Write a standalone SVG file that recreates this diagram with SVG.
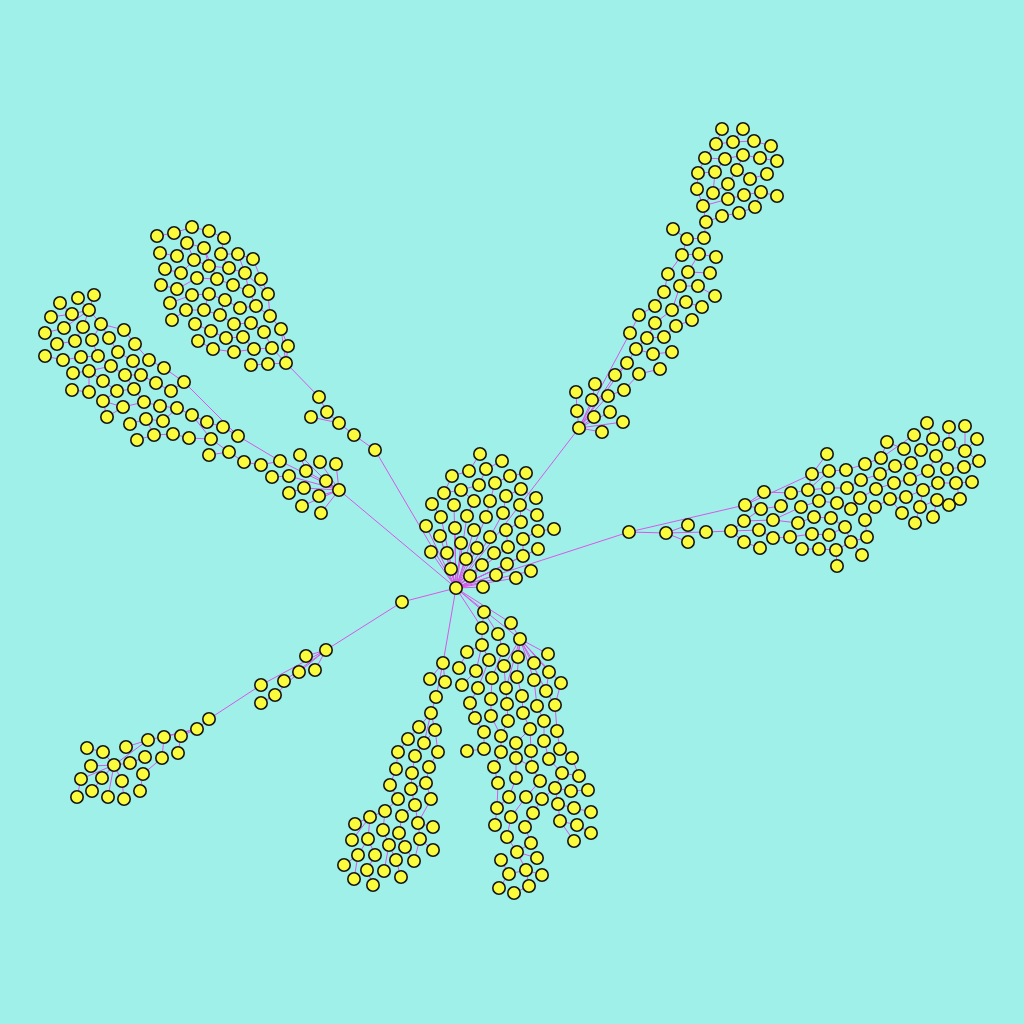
<svg xmlns="http://www.w3.org/2000/svg" width="1024" height="1024" viewBox="0 0 1024 1024">
<style>
.e{fill:none;stroke:#d957e6;stroke-width:1}
.nd circle{fill:#fbfb3e;stroke:#151515;stroke-width:1.6}
</style>
<rect width="1024" height="1024" fill="#9ef0e9"/>
<g id="connectors">
<path class="e" d="M456 588L579 428M456 588L629 532M456 588L339 490M456 588L375 450M456 588L402 602M456 588L443 663M456 588L484 612M456 588L482 628M456 588L511 623M456 588L520 639"/>
<path class="e" d="M456 588L451 569M456 588L470 576M456 588L466 559M456 588L447 553M456 588L431 552M456 588L440 536M456 588L461 543M456 588L455 528M456 588L441 517M456 588L477 548M456 588L482 565M456 588L496 575M456 588L516 578M456 588L531 571M456 588L483 587M456 588L507 564M456 588L494 553M456 588L474 530M456 588L467 516M456 588L454 505M456 588L426 526M456 588L490 537M456 588L508 547M456 588L523 556M456 588L538 549M456 588L486 517M454 505L444 493L452 476L469 471L480 454M444 493L461 490L479 485L486 469L502 461M474 501L461 490M490 501L495 483L510 476L526 473M503 513L506 496L521 489L536 498M520 505L537 515M506 530L521 522L520 505M523 539L538 531L554 529M486 517L490 501M467 516L474 501M441 517L432 504M490 537L503 513M508 547L506 530M523 556L523 539"/>
<path class="e" d="M579 428L577 411M579 428L594 417M579 428L610 412M579 428L602 432M579 428L623 422M579 428L592 400M579 428L608 396M579 428L615 375M579 428L627 363M579 428L630 333M577 411L576 392M592 400L595 384M608 396L624 390L639 374L660 369M627 363L636 349L653 354L672 352M636 349L647 338L664 337L676 326L692 320M630 333L639 315L655 306L664 292L668 274L682 255L687 239L673 229M682 255L699 254L716 257M687 239L704 238L706 222M647 338L655 323L672 310L686 302L702 307M672 310L680 286L698 286L715 296M680 286L688 272L710 273M688 272L699 254M615 375L627 363M706 222L722 216L739 213L755 207M706 222L703 206L697 189L698 173L705 158L716 144L722 129M703 206L713 193L728 184L737 170L750 179L767 174M703 206L728 199L744 195L761 192L777 196M716 144L733 142L743 129M733 142L754 141L771 146M705 158L725 159L743 155L760 158L777 161M698 173L715 172L725 159M737 170L743 155M755 207L761 192M713 193L715 172"/>
<path class="e" d="M375 450L354 435L339 423L327 412L319 397L286 363M339 423L311 417M286 363L268 364L251 365M286 363L288 346M286 363L272 348M286 363L281 329M288 346L281 329M272 348L264 332M272 348L254 349L234 352L213 349L198 341M254 349L243 337L226 338L211 331L195 324M264 332L251 323L234 324L220 315L204 310L186 310L172 320M281 329L270 316L268 294L261 279L253 259L238 254L221 254L224 238L209 231L192 227L174 233L157 236M270 316L256 306L240 308L225 300L209 294L192 295L170 303M256 306L249 291L233 285L217 279L197 278L177 289L161 285M249 291L245 273L229 268L209 266L194 260L181 273L165 269M245 273L238 254M229 268L221 254M209 266L204 248L187 243L177 256L160 253M194 260L187 243M268 294L245 273M217 279L204 248M209 294L204 310M220 315L225 300"/>
<path class="e" d="M339 490L326 481M339 490L336 464M339 490L320 462M339 490L304 488M339 490L319 496M339 490L302 506M339 490L321 513M339 490L306 471M339 490L289 476M339 490L280 461M326 481L300 455M306 471L300 455M289 476L272 477M304 488L289 493M280 461L261 465L244 462L229 452L209 455M229 452L211 439L192 415M280 461L238 436L223 427L207 422L192 415M238 436L184 382M89 310L94 295M89 310L78 298M89 310L72 314L60 303M72 314L51 317M89 310L64 328L45 333M89 310L83 327L75 341L57 344M89 310L101 324L124 330L135 344L149 360L164 368L184 382M101 324L92 340L98 356L81 357L63 360L45 356M101 324L109 338L118 352L133 361L141 375L156 383L171 391L184 382M98 356L111 366L125 375L134 389L144 402L160 406L177 408L192 415M111 366L89 371L73 373M89 371L89 392L72 390M89 371L103 381L117 391L134 389M117 391L103 401L123 407L144 402M107 417L123 407M130 424L146 419L163 421L177 408M137 440L154 435L173 434L189 438L211 439M125 375L141 375M103 401L107 417M146 419L154 435"/>
<path class="e" d="M629 532L666 533M629 532L745 505M666 533L688 525M666 533L688 542M666 533L706 532L731 531L744 521L773 520L798 523L814 517L831 518L845 527L851 542L867 537L865 520L875 507L890 499L906 497L923 490M731 531L759 530L773 538L790 537L812 534L829 535L845 527M731 531L744 542L760 548M745 505L764 492L791 493L808 490L828 488L847 488L861 480L880 474L895 466L911 463L921 450L933 439L927 423M745 505L812 474L827 454M812 474L829 471L846 470L865 464L881 458L887 442L904 449M881 458L914 435M745 505L761 509L781 506L791 493M744 521L761 509M773 520L801 507L819 501L837 503L851 509L860 498L876 489L894 483L910 479L928 471L936 456L947 469L964 467L979 461L965 451L949 444L949 427M933 439L949 444M965 451L965 426M965 451L977 439M910 479L923 490L938 483L956 483L972 482M956 483L960 499M923 490L920 507L915 523M920 507L937 500L949 505M937 500L933 517M890 499L902 513M808 490L829 471M836 550L851 542M836 550L837 566M819 549L836 550M802 549L819 549M862 555L851 542M808 490L812 474"/>
<path class="e" d="M484 612L498 634L503 650L492 678L491 699L491 716L501 736L501 752L494 767L498 783L497 808L495 825M484 612L482 628L482 645L467 652L459 668M482 645L476 671L462 685M482 645L489 660L478 688L470 703L475 718L484 732L484 749L467 751M511 623L520 639M520 639L518 657M520 639L534 663M520 639L548 654M520 639L549 672L546 691L555 705L557 731L560 749L572 758L579 776M520 639L534 680L537 706L544 721L544 741L549 759L562 773L579 776M520 639L517 677L522 696L523 713L530 729L516 743L516 758L532 767L540 781L526 797L511 817L507 837L517 852L526 870L509 874L499 888M520 639L504 666L507 704M520 639L506 688L508 721L501 736M520 639L561 683L555 705M520 639L546 691M530 729L531 751L532 767M526 870L529 886L514 893M517 852L537 858M526 870L542 875M562 773L555 788L571 791L588 790M555 788L558 804L574 808L591 812M558 804L560 821L577 825L591 833M560 821L574 841M542 799L533 813L525 827L531 843L517 852M555 788L542 799M516 778L509 797L497 808M516 758L516 778M501 860L509 874"/>
<path class="e" d="M443 663L430 679M443 663L445 682M443 663L436 697L431 713L419 727L408 739L398 752L396 769L390 785L398 799L385 811L370 817L355 824M431 713L435 730L438 752L429 767L426 783L411 789L415 805L402 816L399 833L405 847L414 861M431 713L424 743L415 756L412 773L411 789M435 730L424 743M426 783L431 799L418 823L433 827M415 805L418 823L420 839L433 850M370 817L368 839L358 855L344 865M370 817L352 840M385 811L383 830L389 845L396 860L401 877M368 839L375 855L367 870L373 885M358 855L354 879M384 871L389 845M420 839L414 861"/>
<path class="e" d="M402 602L326 650M326 650L306 656M326 650L315 670M326 650L299 672M326 650L284 681M326 650L261 685M299 672L275 695L261 703M261 685L209 719L197 729L181 736L178 753M197 729L164 737L162 758L143 774L140 791M197 729L148 740L126 747M148 740L114 765L103 752L87 748M114 765L91 766M114 765L102 778L92 791M114 765L81 779L77 797M114 765L122 781L124 799M114 765L108 797M114 765L130 763L145 757"/>
</g>
<g id="nodes" class="nd">
<g id="hub"><circle cx="456" cy="588" r="6.2"/></g>
<g id="c1"><circle cx="480" cy="454" r="6.2"/></g><g id="c2"><circle cx="502" cy="461" r="6.2"/></g><g id="c3"><circle cx="469" cy="471" r="6.2"/></g><g id="c4"><circle cx="486" cy="469" r="6.2"/></g><g id="c5"><circle cx="452" cy="476" r="6.2"/></g><g id="c6"><circle cx="510" cy="476" r="6.2"/></g><g id="c7"><circle cx="526" cy="473" r="6.2"/></g><g id="c8"><circle cx="479" cy="485" r="6.2"/></g><g id="c9"><circle cx="495" cy="483" r="6.2"/></g><g id="c10"><circle cx="461" cy="490" r="6.2"/></g><g id="c11"><circle cx="444" cy="493" r="6.2"/></g><g id="c12"><circle cx="521" cy="489" r="6.2"/></g><g id="c13"><circle cx="506" cy="496" r="6.2"/></g><g id="c14"><circle cx="536" cy="498" r="6.2"/></g><g id="c15"><circle cx="432" cy="504" r="6.2"/></g><g id="c16"><circle cx="454" cy="505" r="6.2"/></g><g id="c17"><circle cx="474" cy="501" r="6.2"/></g><g id="c18"><circle cx="490" cy="501" r="6.2"/></g><g id="c19"><circle cx="520" cy="505" r="6.2"/></g><g id="c20"><circle cx="503" cy="513" r="6.2"/></g><g id="c21"><circle cx="537" cy="515" r="6.2"/></g><g id="c22"><circle cx="441" cy="517" r="6.2"/></g><g id="c23"><circle cx="467" cy="516" r="6.2"/></g><g id="c24"><circle cx="486" cy="517" r="6.2"/></g><g id="c25"><circle cx="426" cy="526" r="6.2"/></g><g id="c26"><circle cx="455" cy="528" r="6.2"/></g><g id="c27"><circle cx="474" cy="530" r="6.2"/></g><g id="c28"><circle cx="506" cy="530" r="6.2"/></g><g id="c29"><circle cx="521" cy="522" r="6.2"/></g><g id="c30"><circle cx="538" cy="531" r="6.2"/></g><g id="c31"><circle cx="554" cy="529" r="6.2"/></g><g id="c32"><circle cx="440" cy="536" r="6.2"/></g><g id="c33"><circle cx="490" cy="537" r="6.2"/></g><g id="c34"><circle cx="523" cy="539" r="6.2"/></g><g id="c35"><circle cx="431" cy="552" r="6.2"/></g><g id="c36"><circle cx="447" cy="553" r="6.2"/></g><g id="c37"><circle cx="461" cy="543" r="6.2"/></g><g id="c38"><circle cx="477" cy="548" r="6.2"/></g><g id="c39"><circle cx="494" cy="553" r="6.2"/></g><g id="c40"><circle cx="508" cy="547" r="6.2"/></g><g id="c41"><circle cx="538" cy="549" r="6.2"/></g><g id="c42"><circle cx="466" cy="559" r="6.2"/></g><g id="c43"><circle cx="482" cy="565" r="6.2"/></g><g id="c44"><circle cx="507" cy="564" r="6.2"/></g><g id="c45"><circle cx="523" cy="556" r="6.2"/></g><g id="c46"><circle cx="451" cy="569" r="6.2"/></g><g id="c47"><circle cx="470" cy="576" r="6.2"/></g><g id="c48"><circle cx="496" cy="575" r="6.2"/></g><g id="c49"><circle cx="516" cy="578" r="6.2"/></g><g id="c50"><circle cx="531" cy="571" r="6.2"/></g><g id="c51"><circle cx="483" cy="587" r="6.2"/></g>
<g id="u1"><circle cx="673" cy="229" r="6.2"/></g><g id="u2"><circle cx="706" cy="222" r="6.2"/></g><g id="u3"><circle cx="687" cy="239" r="6.2"/></g><g id="u4"><circle cx="704" cy="238" r="6.2"/></g><g id="u5"><circle cx="682" cy="255" r="6.2"/></g><g id="u6"><circle cx="699" cy="254" r="6.2"/></g><g id="u7"><circle cx="716" cy="257" r="6.2"/></g><g id="u8"><circle cx="668" cy="274" r="6.2"/></g><g id="u9"><circle cx="688" cy="272" r="6.2"/></g><g id="u10"><circle cx="710" cy="273" r="6.2"/></g><g id="u11"><circle cx="664" cy="292" r="6.2"/></g><g id="u12"><circle cx="680" cy="286" r="6.2"/></g><g id="u13"><circle cx="698" cy="286" r="6.2"/></g><g id="u14"><circle cx="655" cy="306" r="6.2"/></g><g id="u15"><circle cx="686" cy="302" r="6.2"/></g><g id="u16"><circle cx="715" cy="296" r="6.2"/></g><g id="u17"><circle cx="639" cy="315" r="6.2"/></g><g id="u18"><circle cx="672" cy="310" r="6.2"/></g><g id="u19"><circle cx="702" cy="307" r="6.2"/></g><g id="u20"><circle cx="655" cy="323" r="6.2"/></g><g id="u21"><circle cx="676" cy="326" r="6.2"/></g><g id="u22"><circle cx="692" cy="320" r="6.2"/></g><g id="u23"><circle cx="630" cy="333" r="6.2"/></g><g id="u24"><circle cx="647" cy="338" r="6.2"/></g><g id="u25"><circle cx="664" cy="337" r="6.2"/></g><g id="u26"><circle cx="636" cy="349" r="6.2"/></g><g id="u27"><circle cx="653" cy="354" r="6.2"/></g><g id="u28"><circle cx="672" cy="352" r="6.2"/></g><g id="u29"><circle cx="627" cy="363" r="6.2"/></g><g id="u30"><circle cx="615" cy="375" r="6.2"/></g><g id="u31"><circle cx="639" cy="374" r="6.2"/></g><g id="u32"><circle cx="660" cy="369" r="6.2"/></g><g id="u33"><circle cx="595" cy="384" r="6.2"/></g><g id="u34"><circle cx="624" cy="390" r="6.2"/></g><g id="u35"><circle cx="576" cy="392" r="6.2"/></g><g id="u36"><circle cx="592" cy="400" r="6.2"/></g><g id="u37"><circle cx="608" cy="396" r="6.2"/></g><g id="u38"><circle cx="577" cy="411" r="6.2"/></g><g id="u39"><circle cx="594" cy="417" r="6.2"/></g><g id="u40"><circle cx="610" cy="412" r="6.2"/></g><g id="u41"><circle cx="579" cy="428" r="6.2"/></g><g id="u42"><circle cx="602" cy="432" r="6.2"/></g><g id="u43"><circle cx="623" cy="422" r="6.2"/></g>
<g id="u44"><circle cx="722" cy="129" r="6.2"/></g><g id="u45"><circle cx="743" cy="129" r="6.2"/></g><g id="u46"><circle cx="716" cy="144" r="6.2"/></g><g id="u47"><circle cx="733" cy="142" r="6.2"/></g><g id="u48"><circle cx="754" cy="141" r="6.2"/></g><g id="u49"><circle cx="771" cy="146" r="6.2"/></g><g id="u50"><circle cx="705" cy="158" r="6.2"/></g><g id="u51"><circle cx="725" cy="159" r="6.2"/></g><g id="u52"><circle cx="743" cy="155" r="6.2"/></g><g id="u53"><circle cx="760" cy="158" r="6.2"/></g><g id="u54"><circle cx="777" cy="161" r="6.2"/></g><g id="u55"><circle cx="698" cy="173" r="6.2"/></g><g id="u56"><circle cx="715" cy="172" r="6.2"/></g><g id="u57"><circle cx="737" cy="170" r="6.2"/></g><g id="u58"><circle cx="767" cy="174" r="6.2"/></g><g id="u59"><circle cx="750" cy="179" r="6.2"/></g><g id="u60"><circle cx="697" cy="189" r="6.2"/></g><g id="u61"><circle cx="728" cy="184" r="6.2"/></g><g id="u62"><circle cx="713" cy="193" r="6.2"/></g><g id="u63"><circle cx="744" cy="195" r="6.2"/></g><g id="u64"><circle cx="761" cy="192" r="6.2"/></g><g id="u65"><circle cx="777" cy="196" r="6.2"/></g><g id="u66"><circle cx="703" cy="206" r="6.2"/></g><g id="u67"><circle cx="728" cy="199" r="6.2"/></g><g id="u68"><circle cx="755" cy="207" r="6.2"/></g><g id="u69"><circle cx="739" cy="213" r="6.2"/></g><g id="u70"><circle cx="722" cy="216" r="6.2"/></g>
<g id="a1"><circle cx="157" cy="236" r="6.2"/></g><g id="a2"><circle cx="174" cy="233" r="6.2"/></g><g id="a3"><circle cx="192" cy="227" r="6.2"/></g><g id="a4"><circle cx="209" cy="231" r="6.2"/></g><g id="a5"><circle cx="224" cy="238" r="6.2"/></g><g id="a6"><circle cx="187" cy="243" r="6.2"/></g><g id="a7"><circle cx="160" cy="253" r="6.2"/></g><g id="a8"><circle cx="177" cy="256" r="6.2"/></g><g id="a9"><circle cx="204" cy="248" r="6.2"/></g><g id="a10"><circle cx="221" cy="254" r="6.2"/></g><g id="a11"><circle cx="238" cy="254" r="6.2"/></g><g id="a12"><circle cx="253" cy="259" r="6.2"/></g><g id="a13"><circle cx="165" cy="269" r="6.2"/></g><g id="a14"><circle cx="181" cy="273" r="6.2"/></g><g id="a15"><circle cx="194" cy="260" r="6.2"/></g><g id="a16"><circle cx="209" cy="266" r="6.2"/></g><g id="a17"><circle cx="229" cy="268" r="6.2"/></g><g id="a18"><circle cx="245" cy="273" r="6.2"/></g><g id="a19"><circle cx="261" cy="279" r="6.2"/></g><g id="a20"><circle cx="161" cy="285" r="6.2"/></g><g id="a21"><circle cx="177" cy="289" r="6.2"/></g><g id="a22"><circle cx="197" cy="278" r="6.2"/></g><g id="a23"><circle cx="217" cy="279" r="6.2"/></g><g id="a24"><circle cx="233" cy="285" r="6.2"/></g><g id="a25"><circle cx="249" cy="291" r="6.2"/></g><g id="a26"><circle cx="268" cy="294" r="6.2"/></g><g id="a27"><circle cx="170" cy="303" r="6.2"/></g><g id="a28"><circle cx="192" cy="295" r="6.2"/></g><g id="a29"><circle cx="209" cy="294" r="6.2"/></g><g id="a30"><circle cx="225" cy="300" r="6.2"/></g><g id="a31"><circle cx="240" cy="308" r="6.2"/></g><g id="a32"><circle cx="256" cy="306" r="6.2"/></g><g id="a33"><circle cx="270" cy="316" r="6.2"/></g><g id="a34"><circle cx="172" cy="320" r="6.2"/></g><g id="a35"><circle cx="186" cy="310" r="6.2"/></g><g id="a36"><circle cx="204" cy="310" r="6.2"/></g><g id="a37"><circle cx="220" cy="315" r="6.2"/></g><g id="a38"><circle cx="234" cy="324" r="6.2"/></g><g id="a39"><circle cx="251" cy="323" r="6.2"/></g><g id="a40"><circle cx="281" cy="329" r="6.2"/></g><g id="a41"><circle cx="195" cy="324" r="6.2"/></g><g id="a42"><circle cx="211" cy="331" r="6.2"/></g><g id="a43"><circle cx="226" cy="338" r="6.2"/></g><g id="a44"><circle cx="243" cy="337" r="6.2"/></g><g id="a45"><circle cx="264" cy="332" r="6.2"/></g><g id="a46"><circle cx="198" cy="341" r="6.2"/></g><g id="a47"><circle cx="213" cy="349" r="6.2"/></g><g id="a48"><circle cx="234" cy="352" r="6.2"/></g><g id="a49"><circle cx="254" cy="349" r="6.2"/></g><g id="a50"><circle cx="272" cy="348" r="6.2"/></g><g id="a51"><circle cx="288" cy="346" r="6.2"/></g><g id="a52"><circle cx="251" cy="365" r="6.2"/></g><g id="a53"><circle cx="268" cy="364" r="6.2"/></g><g id="a54"><circle cx="286" cy="363" r="6.2"/></g><g id="a55"><circle cx="319" cy="397" r="6.2"/></g><g id="a56"><circle cx="327" cy="412" r="6.2"/></g><g id="a57"><circle cx="311" cy="417" r="6.2"/></g><g id="a58"><circle cx="339" cy="423" r="6.2"/></g><g id="a59"><circle cx="354" cy="435" r="6.2"/></g><g id="a60"><circle cx="375" cy="450" r="6.2"/></g>
<g id="b1"><circle cx="60" cy="303" r="6.2"/></g><g id="b2"><circle cx="78" cy="298" r="6.2"/></g><g id="b3"><circle cx="94" cy="295" r="6.2"/></g><g id="b4"><circle cx="51" cy="317" r="6.2"/></g><g id="b5"><circle cx="72" cy="314" r="6.2"/></g><g id="b6"><circle cx="89" cy="310" r="6.2"/></g><g id="b7"><circle cx="45" cy="333" r="6.2"/></g><g id="b8"><circle cx="64" cy="328" r="6.2"/></g><g id="b9"><circle cx="83" cy="327" r="6.2"/></g><g id="b10"><circle cx="101" cy="324" r="6.2"/></g><g id="b11"><circle cx="124" cy="330" r="6.2"/></g><g id="b12"><circle cx="57" cy="344" r="6.2"/></g><g id="b13"><circle cx="75" cy="341" r="6.2"/></g><g id="b14"><circle cx="92" cy="340" r="6.2"/></g><g id="b15"><circle cx="109" cy="338" r="6.2"/></g><g id="b16"><circle cx="135" cy="344" r="6.2"/></g><g id="b17"><circle cx="45" cy="356" r="6.2"/></g><g id="b18"><circle cx="63" cy="360" r="6.2"/></g><g id="b19"><circle cx="81" cy="357" r="6.2"/></g><g id="b20"><circle cx="98" cy="356" r="6.2"/></g><g id="b21"><circle cx="118" cy="352" r="6.2"/></g><g id="b22"><circle cx="133" cy="361" r="6.2"/></g><g id="b23"><circle cx="149" cy="360" r="6.2"/></g><g id="b24"><circle cx="164" cy="368" r="6.2"/></g><g id="b25"><circle cx="73" cy="373" r="6.2"/></g><g id="b26"><circle cx="89" cy="371" r="6.2"/></g><g id="b27"><circle cx="111" cy="366" r="6.2"/></g><g id="b28"><circle cx="125" cy="375" r="6.2"/></g><g id="b29"><circle cx="141" cy="375" r="6.2"/></g><g id="b30"><circle cx="184" cy="382" r="6.2"/></g><g id="b31"><circle cx="72" cy="390" r="6.2"/></g><g id="b32"><circle cx="89" cy="392" r="6.2"/></g><g id="b33"><circle cx="103" cy="381" r="6.2"/></g><g id="b34"><circle cx="117" cy="391" r="6.2"/></g><g id="b35"><circle cx="134" cy="389" r="6.2"/></g><g id="b36"><circle cx="156" cy="383" r="6.2"/></g><g id="b37"><circle cx="171" cy="391" r="6.2"/></g><g id="b38"><circle cx="103" cy="401" r="6.2"/></g><g id="b39"><circle cx="123" cy="407" r="6.2"/></g><g id="b40"><circle cx="144" cy="402" r="6.2"/></g><g id="b41"><circle cx="160" cy="406" r="6.2"/></g><g id="b42"><circle cx="177" cy="408" r="6.2"/></g><g id="b43"><circle cx="192" cy="415" r="6.2"/></g><g id="b44"><circle cx="107" cy="417" r="6.2"/></g><g id="b45"><circle cx="130" cy="424" r="6.2"/></g><g id="b46"><circle cx="146" cy="419" r="6.2"/></g><g id="b47"><circle cx="163" cy="421" r="6.2"/></g><g id="b48"><circle cx="137" cy="440" r="6.2"/></g><g id="b49"><circle cx="154" cy="435" r="6.2"/></g><g id="b50"><circle cx="173" cy="434" r="6.2"/></g><g id="b51"><circle cx="189" cy="438" r="6.2"/></g><g id="b52"><circle cx="207" cy="422" r="6.2"/></g><g id="b53"><circle cx="223" cy="427" r="6.2"/></g><g id="b54"><circle cx="238" cy="436" r="6.2"/></g><g id="b55"><circle cx="211" cy="439" r="6.2"/></g><g id="b56"><circle cx="229" cy="452" r="6.2"/></g><g id="b57"><circle cx="209" cy="455" r="6.2"/></g><g id="b58"><circle cx="244" cy="462" r="6.2"/></g><g id="b59"><circle cx="261" cy="465" r="6.2"/></g><g id="b60"><circle cx="280" cy="461" r="6.2"/></g><g id="b61"><circle cx="300" cy="455" r="6.2"/></g><g id="b62"><circle cx="320" cy="462" r="6.2"/></g><g id="b63"><circle cx="336" cy="464" r="6.2"/></g><g id="b64"><circle cx="306" cy="471" r="6.2"/></g><g id="b65"><circle cx="272" cy="477" r="6.2"/></g><g id="b66"><circle cx="289" cy="476" r="6.2"/></g><g id="b67"><circle cx="326" cy="481" r="6.2"/></g><g id="b68"><circle cx="339" cy="490" r="6.2"/></g><g id="b69"><circle cx="304" cy="488" r="6.2"/></g><g id="b70"><circle cx="289" cy="493" r="6.2"/></g><g id="b71"><circle cx="319" cy="496" r="6.2"/></g><g id="b72"><circle cx="302" cy="506" r="6.2"/></g><g id="b73"><circle cx="321" cy="513" r="6.2"/></g>
<g id="r1"><circle cx="629" cy="532" r="6.2"/></g><g id="r2"><circle cx="666" cy="533" r="6.2"/></g><g id="r3"><circle cx="688" cy="525" r="6.2"/></g><g id="r4"><circle cx="688" cy="542" r="6.2"/></g><g id="r5"><circle cx="706" cy="532" r="6.2"/></g><g id="r6"><circle cx="731" cy="531" r="6.2"/></g><g id="r7"><circle cx="745" cy="505" r="6.2"/></g><g id="r8"><circle cx="764" cy="492" r="6.2"/></g><g id="r9"><circle cx="744" cy="521" r="6.2"/></g><g id="r10"><circle cx="761" cy="509" r="6.2"/></g><g id="r11"><circle cx="759" cy="530" r="6.2"/></g><g id="r12"><circle cx="744" cy="542" r="6.2"/></g><g id="r13"><circle cx="760" cy="548" r="6.2"/></g><g id="r14"><circle cx="773" cy="520" r="6.2"/></g><g id="r15"><circle cx="781" cy="506" r="6.2"/></g><g id="r16"><circle cx="791" cy="493" r="6.2"/></g><g id="r17"><circle cx="773" cy="538" r="6.2"/></g><g id="r18"><circle cx="790" cy="537" r="6.2"/></g><g id="r19"><circle cx="798" cy="523" r="6.2"/></g><g id="r20"><circle cx="801" cy="507" r="6.2"/></g><g id="r21"><circle cx="808" cy="490" r="6.2"/></g><g id="r22"><circle cx="812" cy="474" r="6.2"/></g><g id="r23"><circle cx="827" cy="454" r="6.2"/></g><g id="r24"><circle cx="829" cy="471" r="6.2"/></g><g id="r25"><circle cx="819" cy="501" r="6.2"/></g><g id="r26"><circle cx="814" cy="517" r="6.2"/></g><g id="r27"><circle cx="812" cy="534" r="6.2"/></g><g id="r28"><circle cx="802" cy="549" r="6.2"/></g><g id="r29"><circle cx="819" cy="549" r="6.2"/></g><g id="r30"><circle cx="829" cy="535" r="6.2"/></g><g id="r31"><circle cx="831" cy="518" r="6.2"/></g><g id="r32"><circle cx="837" cy="503" r="6.2"/></g><g id="r33"><circle cx="828" cy="488" r="6.2"/></g><g id="r34"><circle cx="846" cy="470" r="6.2"/></g><g id="r35"><circle cx="847" cy="488" r="6.2"/></g><g id="r36"><circle cx="836" cy="550" r="6.2"/></g><g id="r37"><circle cx="837" cy="566" r="6.2"/></g><g id="r38"><circle cx="845" cy="527" r="6.2"/></g><g id="r39"><circle cx="851" cy="509" r="6.2"/></g><g id="r40"><circle cx="851" cy="542" r="6.2"/></g><g id="r41"><circle cx="862" cy="555" r="6.2"/></g><g id="r42"><circle cx="865" cy="520" r="6.2"/></g><g id="r43"><circle cx="867" cy="537" r="6.2"/></g><g id="r44"><circle cx="860" cy="498" r="6.2"/></g><g id="r45"><circle cx="861" cy="480" r="6.2"/></g><g id="r46"><circle cx="865" cy="464" r="6.2"/></g><g id="r47"><circle cx="881" cy="458" r="6.2"/></g><g id="r48"><circle cx="876" cy="489" r="6.2"/></g><g id="r49"><circle cx="875" cy="507" r="6.2"/></g><g id="r50"><circle cx="880" cy="474" r="6.2"/></g><g id="r51"><circle cx="887" cy="442" r="6.2"/></g><g id="r52"><circle cx="904" cy="449" r="6.2"/></g><g id="r53"><circle cx="895" cy="466" r="6.2"/></g><g id="r54"><circle cx="890" cy="499" r="6.2"/></g><g id="r55"><circle cx="894" cy="483" r="6.2"/></g><g id="r56"><circle cx="902" cy="513" r="6.2"/></g><g id="r57"><circle cx="906" cy="497" r="6.2"/></g><g id="r58"><circle cx="911" cy="463" r="6.2"/></g><g id="r59"><circle cx="910" cy="479" r="6.2"/></g><g id="r60"><circle cx="914" cy="435" r="6.2"/></g><g id="r61"><circle cx="921" cy="450" r="6.2"/></g><g id="r62"><circle cx="923" cy="490" r="6.2"/></g><g id="r63"><circle cx="920" cy="507" r="6.2"/></g><g id="r64"><circle cx="915" cy="523" r="6.2"/></g><g id="r65"><circle cx="927" cy="423" r="6.2"/></g><g id="r66"><circle cx="933" cy="439" r="6.2"/></g><g id="r67"><circle cx="936" cy="456" r="6.2"/></g><g id="r68"><circle cx="928" cy="471" r="6.2"/></g><g id="r69"><circle cx="938" cy="483" r="6.2"/></g><g id="r70"><circle cx="937" cy="500" r="6.2"/></g><g id="r71"><circle cx="933" cy="517" r="6.2"/></g><g id="r72"><circle cx="949" cy="505" r="6.2"/></g><g id="r73"><circle cx="949" cy="427" r="6.2"/></g><g id="r74"><circle cx="949" cy="444" r="6.2"/></g><g id="r75"><circle cx="947" cy="469" r="6.2"/></g><g id="r76"><circle cx="956" cy="483" r="6.2"/></g><g id="r77"><circle cx="960" cy="499" r="6.2"/></g><g id="r78"><circle cx="964" cy="467" r="6.2"/></g><g id="r79"><circle cx="965" cy="451" r="6.2"/></g><g id="r80"><circle cx="965" cy="426" r="6.2"/></g><g id="r81"><circle cx="972" cy="482" r="6.2"/></g><g id="r82"><circle cx="977" cy="439" r="6.2"/></g><g id="r83"><circle cx="979" cy="461" r="6.2"/></g>
<g id="m1"><circle cx="484" cy="612" r="6.2"/></g><g id="m2"><circle cx="511" cy="623" r="6.2"/></g><g id="m3"><circle cx="482" cy="628" r="6.2"/></g><g id="m4"><circle cx="498" cy="634" r="6.2"/></g><g id="m5"><circle cx="520" cy="639" r="6.2"/></g><g id="m6"><circle cx="482" cy="645" r="6.2"/></g><g id="m7"><circle cx="467" cy="652" r="6.2"/></g><g id="m8"><circle cx="503" cy="650" r="6.2"/></g><g id="m9"><circle cx="548" cy="654" r="6.2"/></g><g id="m10"><circle cx="518" cy="657" r="6.2"/></g><g id="m11"><circle cx="489" cy="660" r="6.2"/></g><g id="m12"><circle cx="534" cy="663" r="6.2"/></g><g id="m13"><circle cx="459" cy="668" r="6.2"/></g><g id="m14"><circle cx="476" cy="671" r="6.2"/></g><g id="m15"><circle cx="504" cy="666" r="6.2"/></g><g id="m16"><circle cx="549" cy="672" r="6.2"/></g><g id="m17"><circle cx="492" cy="678" r="6.2"/></g><g id="m18"><circle cx="517" cy="677" r="6.2"/></g><g id="m19"><circle cx="534" cy="680" r="6.2"/></g><g id="m20"><circle cx="561" cy="683" r="6.2"/></g><g id="m21"><circle cx="462" cy="685" r="6.2"/></g><g id="m22"><circle cx="478" cy="688" r="6.2"/></g><g id="m23"><circle cx="506" cy="688" r="6.2"/></g><g id="m24"><circle cx="546" cy="691" r="6.2"/></g><g id="m25"><circle cx="522" cy="696" r="6.2"/></g><g id="m26"><circle cx="491" cy="699" r="6.2"/></g><g id="m27"><circle cx="470" cy="703" r="6.2"/></g><g id="m28"><circle cx="507" cy="704" r="6.2"/></g><g id="m29"><circle cx="537" cy="706" r="6.2"/></g><g id="m30"><circle cx="555" cy="705" r="6.2"/></g><g id="m31"><circle cx="491" cy="716" r="6.2"/></g><g id="m32"><circle cx="475" cy="718" r="6.2"/></g><g id="m33"><circle cx="508" cy="721" r="6.2"/></g><g id="m34"><circle cx="523" cy="713" r="6.2"/></g><g id="m35"><circle cx="544" cy="721" r="6.2"/></g><g id="m36"><circle cx="530" cy="729" r="6.2"/></g><g id="m37"><circle cx="557" cy="731" r="6.2"/></g><g id="m38"><circle cx="484" cy="732" r="6.2"/></g><g id="m39"><circle cx="501" cy="736" r="6.2"/></g><g id="m40"><circle cx="516" cy="743" r="6.2"/></g><g id="m41"><circle cx="544" cy="741" r="6.2"/></g><g id="m42"><circle cx="560" cy="749" r="6.2"/></g><g id="m43"><circle cx="467" cy="751" r="6.2"/></g><g id="m44"><circle cx="484" cy="749" r="6.2"/></g><g id="m45"><circle cx="501" cy="752" r="6.2"/></g><g id="m46"><circle cx="531" cy="751" r="6.2"/></g><g id="m47"><circle cx="572" cy="758" r="6.2"/></g><g id="m48"><circle cx="516" cy="758" r="6.2"/></g><g id="m49"><circle cx="549" cy="759" r="6.2"/></g><g id="m50"><circle cx="494" cy="767" r="6.2"/></g><g id="m51"><circle cx="532" cy="767" r="6.2"/></g><g id="m52"><circle cx="562" cy="773" r="6.2"/></g><g id="m53"><circle cx="579" cy="776" r="6.2"/></g><g id="m54"><circle cx="498" cy="783" r="6.2"/></g><g id="m55"><circle cx="516" cy="778" r="6.2"/></g><g id="m56"><circle cx="540" cy="781" r="6.2"/></g><g id="m57"><circle cx="555" cy="788" r="6.2"/></g><g id="m58"><circle cx="571" cy="791" r="6.2"/></g><g id="m59"><circle cx="588" cy="790" r="6.2"/></g><g id="m60"><circle cx="509" cy="797" r="6.2"/></g><g id="m61"><circle cx="526" cy="797" r="6.2"/></g><g id="m62"><circle cx="542" cy="799" r="6.2"/></g><g id="m63"><circle cx="558" cy="804" r="6.2"/></g><g id="m64"><circle cx="574" cy="808" r="6.2"/></g><g id="m65"><circle cx="591" cy="812" r="6.2"/></g><g id="m66"><circle cx="497" cy="808" r="6.2"/></g><g id="m67"><circle cx="511" cy="817" r="6.2"/></g><g id="m68"><circle cx="533" cy="813" r="6.2"/></g><g id="m69"><circle cx="495" cy="825" r="6.2"/></g><g id="m70"><circle cx="525" cy="827" r="6.2"/></g><g id="m71"><circle cx="560" cy="821" r="6.2"/></g><g id="m72"><circle cx="577" cy="825" r="6.2"/></g><g id="m73"><circle cx="591" cy="833" r="6.2"/></g><g id="m74"><circle cx="507" cy="837" r="6.2"/></g><g id="m75"><circle cx="531" cy="843" r="6.2"/></g><g id="m76"><circle cx="574" cy="841" r="6.2"/></g><g id="m77"><circle cx="517" cy="852" r="6.2"/></g><g id="m78"><circle cx="501" cy="860" r="6.2"/></g><g id="m79"><circle cx="537" cy="858" r="6.2"/></g><g id="m80"><circle cx="526" cy="870" r="6.2"/></g><g id="m81"><circle cx="509" cy="874" r="6.2"/></g><g id="m82"><circle cx="542" cy="875" r="6.2"/></g><g id="m83"><circle cx="499" cy="888" r="6.2"/></g><g id="m84"><circle cx="529" cy="886" r="6.2"/></g><g id="m85"><circle cx="514" cy="893" r="6.2"/></g>
<g id="k1"><circle cx="443" cy="663" r="6.2"/></g><g id="k2"><circle cx="430" cy="679" r="6.2"/></g><g id="k3"><circle cx="445" cy="682" r="6.2"/></g><g id="k4"><circle cx="436" cy="697" r="6.2"/></g><g id="k5"><circle cx="431" cy="713" r="6.2"/></g><g id="k6"><circle cx="435" cy="730" r="6.2"/></g><g id="k7"><circle cx="438" cy="752" r="6.2"/></g><g id="k8"><circle cx="419" cy="727" r="6.2"/></g><g id="k9"><circle cx="408" cy="739" r="6.2"/></g><g id="k10"><circle cx="424" cy="743" r="6.2"/></g><g id="k11"><circle cx="398" cy="752" r="6.2"/></g><g id="k12"><circle cx="415" cy="756" r="6.2"/></g><g id="k13"><circle cx="429" cy="767" r="6.2"/></g><g id="k14"><circle cx="396" cy="769" r="6.2"/></g><g id="k15"><circle cx="412" cy="773" r="6.2"/></g><g id="k16"><circle cx="390" cy="785" r="6.2"/></g><g id="k17"><circle cx="411" cy="789" r="6.2"/></g><g id="k18"><circle cx="426" cy="783" r="6.2"/></g><g id="k19"><circle cx="398" cy="799" r="6.2"/></g><g id="k20"><circle cx="431" cy="799" r="6.2"/></g><g id="k21"><circle cx="415" cy="805" r="6.2"/></g><g id="k22"><circle cx="385" cy="811" r="6.2"/></g><g id="k23"><circle cx="402" cy="816" r="6.2"/></g><g id="k24"><circle cx="370" cy="817" r="6.2"/></g><g id="k25"><circle cx="418" cy="823" r="6.2"/></g><g id="k26"><circle cx="433" cy="827" r="6.2"/></g><g id="k27"><circle cx="355" cy="824" r="6.2"/></g><g id="k28"><circle cx="383" cy="830" r="6.2"/></g><g id="k29"><circle cx="399" cy="833" r="6.2"/></g><g id="k30"><circle cx="352" cy="840" r="6.2"/></g><g id="k31"><circle cx="368" cy="839" r="6.2"/></g><g id="k32"><circle cx="420" cy="839" r="6.2"/></g><g id="k33"><circle cx="389" cy="845" r="6.2"/></g><g id="k34"><circle cx="405" cy="847" r="6.2"/></g><g id="k35"><circle cx="433" cy="850" r="6.2"/></g><g id="k36"><circle cx="358" cy="855" r="6.2"/></g><g id="k37"><circle cx="375" cy="855" r="6.2"/></g><g id="k38"><circle cx="396" cy="860" r="6.2"/></g><g id="k39"><circle cx="414" cy="861" r="6.2"/></g><g id="k40"><circle cx="344" cy="865" r="6.2"/></g><g id="k41"><circle cx="367" cy="870" r="6.2"/></g><g id="k42"><circle cx="384" cy="871" r="6.2"/></g><g id="k43"><circle cx="354" cy="879" r="6.2"/></g><g id="k44"><circle cx="401" cy="877" r="6.2"/></g><g id="k45"><circle cx="373" cy="885" r="6.2"/></g>
<g id="w1"><circle cx="402" cy="602" r="6.2"/></g><g id="w2"><circle cx="326" cy="650" r="6.2"/></g><g id="w3"><circle cx="306" cy="656" r="6.2"/></g><g id="w4"><circle cx="315" cy="670" r="6.2"/></g><g id="w5"><circle cx="299" cy="672" r="6.2"/></g><g id="w6"><circle cx="284" cy="681" r="6.2"/></g><g id="w7"><circle cx="261" cy="685" r="6.2"/></g><g id="w8"><circle cx="275" cy="695" r="6.2"/></g><g id="w9"><circle cx="261" cy="703" r="6.2"/></g><g id="w10"><circle cx="209" cy="719" r="6.2"/></g><g id="w11"><circle cx="197" cy="729" r="6.2"/></g><g id="w12"><circle cx="181" cy="736" r="6.2"/></g><g id="w13"><circle cx="164" cy="737" r="6.2"/></g><g id="w14"><circle cx="148" cy="740" r="6.2"/></g><g id="w15"><circle cx="178" cy="753" r="6.2"/></g><g id="w16"><circle cx="162" cy="758" r="6.2"/></g><g id="w17"><circle cx="145" cy="757" r="6.2"/></g><g id="w18"><circle cx="126" cy="747" r="6.2"/></g><g id="w19"><circle cx="103" cy="752" r="6.2"/></g><g id="w20"><circle cx="87" cy="748" r="6.2"/></g><g id="w21"><circle cx="114" cy="765" r="6.2"/></g><g id="w22"><circle cx="130" cy="763" r="6.2"/></g><g id="w23"><circle cx="91" cy="766" r="6.2"/></g><g id="w24"><circle cx="143" cy="774" r="6.2"/></g><g id="w25"><circle cx="102" cy="778" r="6.2"/></g><g id="w26"><circle cx="81" cy="779" r="6.2"/></g><g id="w27"><circle cx="122" cy="781" r="6.2"/></g><g id="w28"><circle cx="140" cy="791" r="6.2"/></g><g id="w29"><circle cx="92" cy="791" r="6.2"/></g><g id="w30"><circle cx="77" cy="797" r="6.2"/></g><g id="w31"><circle cx="108" cy="797" r="6.2"/></g><g id="w32"><circle cx="124" cy="799" r="6.2"/></g>
</g>
</svg>
